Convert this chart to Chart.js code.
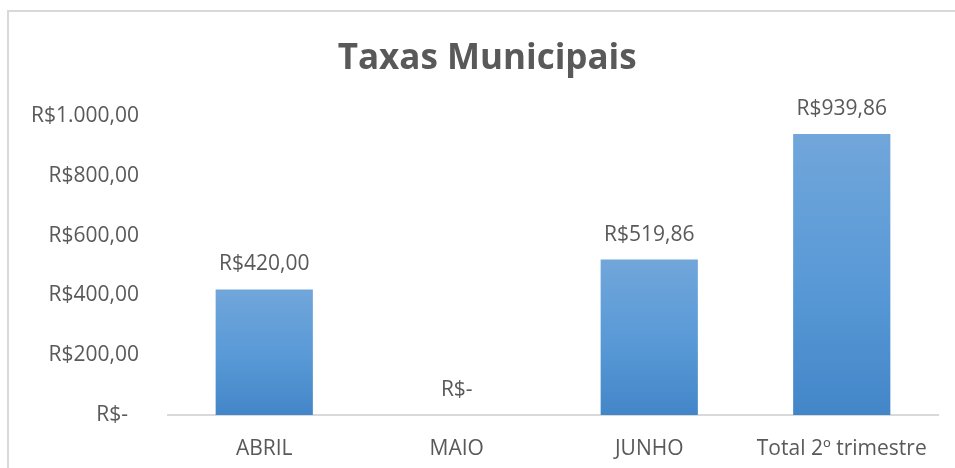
<!DOCTYPE html>
<html>
<head>
<meta charset="utf-8">
<script src="https://cdn.jsdelivr.net/npm/chart.js@4/dist/chart.umd.min.js"></script>
<style>
  html, body { margin: 0; padding: 0; background: #ffffff; overflow: hidden; }
  #frame { position: absolute; left: 7px; top: 10px; width: 1000px; height: 500px;
           border-top: 2px solid #d9d9d9; border-left: 2px solid #d9d9d9; box-sizing: border-box; }
  #wrap { position: absolute; left: 0; top: 0; width: 955px; height: 468px; }
</style>
</head>
<body>
<div id="frame"></div>
<div id="wrap"><canvas id="c" width="955" height="468"></canvas></div>
<script>
const titleText = "Taxas Municipais";
const categories = ["ABRIL", "MAIO", "JUNHO", "Total 2º trimestre"];
const values = [420.00, 0, 519.86, 939.86];
const yTicks = [0, 200, 400, 600, 800, 1000];

const FONT = "'Open Sans', 'Liberation Sans', sans-serif";
const TEXT = "#595959";

function brl(v) {
  if (v === 0) return "R$-";
  const parts = v.toFixed(2).split(".");
  const intPart = parts[0].replace(/\B(?=(\d{3})+(?!\d))/g, ".");
  return "R$" + intPart + "," + parts[1];
}

function barFill(ctx) {
  const chart = ctx.chart;
  if (!chart.chartArea || !chart.scales.y || ctx.type !== 'data') return "#5b9bd5";
  const y = chart.scales.y;
  const top = y.getPixelForValue(ctx.raw);
  const base = y.getPixelForValue(0);
  if (!(base > top)) return "#5b9bd5";
  const g = chart.ctx.createLinearGradient(0, top, 0, base);
  g.addColorStop(0, "#71a6da");
  g.addColorStop(0.5, "#5a9ad7");
  g.addColorStop(1, "#4386c8");
  return g;
}

const valueLabels = {
  id: 'valueLabels',
  afterDatasetsDraw(chart) {
    const c = chart.ctx;
    const meta = chart.getDatasetMeta(0);
    c.save();
    c.font = "21px " + FONT;
    c.fillStyle = TEXT;
    c.textAlign = "center";
    c.textBaseline = "middle";
    meta.data.forEach((bar, i) => {
      c.fillText(brl(values[i]), bar.x, bar.y - 25);
    });
    c.restore();
  }
};

new Chart(document.getElementById('c'), {
  type: 'bar',
  data: {
    labels: categories,
    datasets: [{
      data: values,
      backgroundColor: barFill,
      borderWidth: 0,
      categoryPercentage: 1,
      barPercentage: 0.505
    }]
  },
  options: {
    responsive: false,
    animation: false,
    devicePixelRatio: 1,
    layout: { padding: { left: 0, right: 17, top: 0, bottom: 0 } },
    plugins: {
      legend: { display: false },
      tooltip: { enabled: false },
      title: {
        display: true,
        text: "    " + titleText,
        color: TEXT,
        font: { family: FONT, size: 35, weight: 'bold', lineHeight: 1.2 },
        padding: { top: 38, bottom: 36 }
      }
    },
    scales: {
      x: {
        grid: { display: false },
        border: { display: true, color: "#d9d9d9", width: 2 },
        ticks: { color: TEXT, font: { family: FONT, size: 21 }, padding: 13, maxRotation: 0 },
        afterFit(s) { s.height = 53; }
      },
      y: {
        min: 0, max: 1000,
        grid: { display: false },
        border: { display: false },
        afterBuildTicks(s) { s.ticks = yTicks.map(v => ({ value: v })); },
        ticks: { color: TEXT, font: { family: FONT, size: 21 }, padding: 21,
                 callback: (v) => v === 0 ? "R$-  " : brl(v) },
        afterFit(s) { s.width = 168; }
      }
    }
  },
  plugins: [valueLabels]
});
</script>
</body>
</html>
